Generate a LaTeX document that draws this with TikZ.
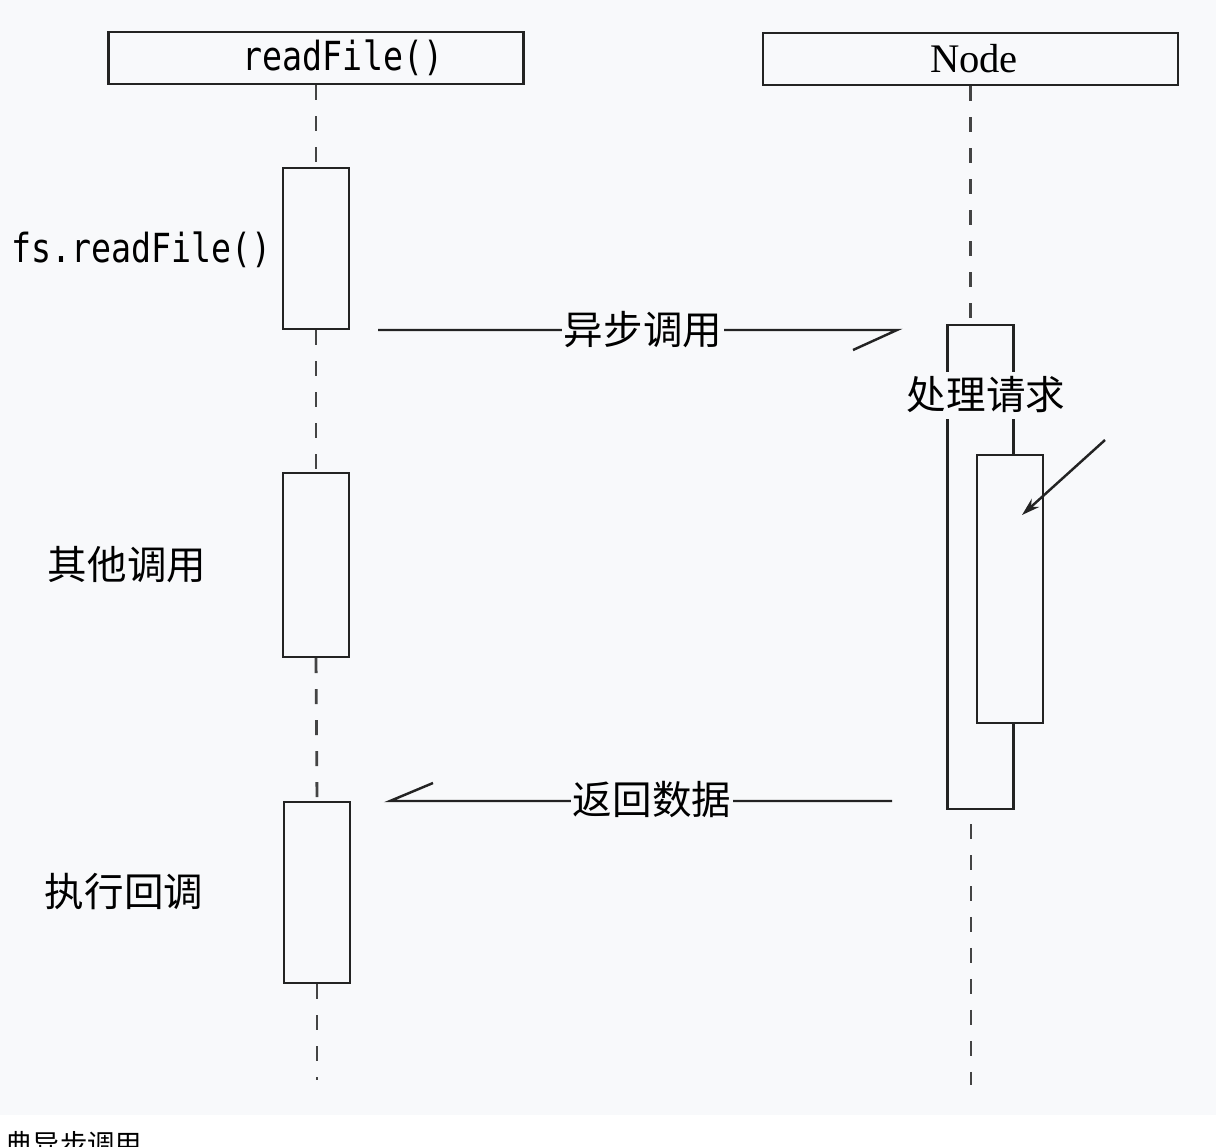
\documentclass[tikz,border=0pt]{standalone}
\usepackage{fontspec}
\newfontfamily\codefont[FakeStretch=0.83]{DejaVu Sans Mono}
\newfontfamily\cjk{Noto Sans CJK SC}
\newfontfamily\serifnode{Liberation Serif}
\usepackage{tikz}
\usetikzlibrary{positioning, arrows.meta}
\definecolor{bgpaper}{RGB}{248,249,251}
\definecolor{ink}{RGB}{35,35,35}

\begin{document}
\begin{tikzpicture}[x=0.02cm, y=-0.02cm,
    head/.style={draw=ink, line width=1.4pt, rectangle, minimum width=8.3cm, minimum height=1.04cm, inner sep=0pt},
    act/.style={draw=ink, line width=1.4pt, rectangle, fill=bgpaper, minimum width=1.32cm, inner sep=0pt},
    lifeline/.style={draw=ink!85, line width=1.6pt, dash pattern=on 0.3cm off 0.32cm},
    msgline/.style={draw=ink, line width=1.4pt},
    msg/.style={fill=bgpaper, inner sep=1pt, font=\cjk\fontsize{22.5}{26}\selectfont},
    note/.style={inner sep=0pt, font=\cjk\fontsize{22.5}{26}\selectfont},
    code/.style={inner sep=0pt, font=\codefont\fontsize{22.8}{26}\selectfont}]

    \useasboundingbox (0,0) rectangle (1216,1146);
    \fill[bgpaper] (0,0) rectangle (1216,1115);
    \fill[white] (0,1115) rectangle (1216,1146);

    % heads
    \node[head] (rf) at (316,58) {};
    \node[code] (rftxt) at (343,58) {readFile()};
    \node[head] (nd) at (970.5,59) {};
    \node[inner sep=0pt, font=\serifnode\fontsize{23.1}{26}\selectfont] (ndtxt) at (974,59) {Node};

    % left activations
    \node[act, minimum height=3.22cm] (call) at (316,248.5) {};
    \node[act, minimum height=3.68cm] (other) at (316,565) {};
    \node[act, minimum height=3.62cm] (cb) at (317,892.5) {};
    \coordinate (rfend) at (317,1080);

    \draw[lifeline] (rf.south -| call) -- (call.north);
    \draw[lifeline] (call.south) -- (other.north);
    \draw[lifeline] (other.south) -- (cb.north);
    \draw[lifeline] (cb.south) -- (rfend);

    % right activations
    \coordinate (ndend) at (971,1085);
    \draw[lifeline] (nd.south) -- (nd.south |- 0,325);
    \draw[lifeline, shorten <=0.3cm] (971,809) -- (ndend);
    \node[act, minimum height=9.68cm] (proc) at (980.5,567) {};
    \node[act, minimum height=5.36cm] (work) at (1010,589) {};
    \node[msg, inner sep=3pt] (proclbl) at (986,395) {处理请求};

    \coordinate (ptrfrom) at (1105,440);
    \coordinate (ptrto) at (1022,515);
    \draw[msgline, -{Stealth[length=0.36cm, width=0.22cm]}] (ptrfrom) -- (ptrto);

    % labels
    \node[code, anchor=east] (fslbl) at (272,250) {fs.readFile()};
    \node[note] (otherlbl) at (127,565) {其他调用};
    \node[note] (cblbl) at (124,892) {执行回调};

    % messages
    \coordinate (asyncfrom) at (378,330);
    \coordinate (asyncto) at (897,330);
    \draw[msgline] (asyncfrom) -- (asyncto) -- ++(-44,20);
    \node[msg] (async) at (643,330) {异步调用};

    \coordinate (retfrom) at (892,801);
    \coordinate (retto) at (390,801);
    \draw[msgline] (retfrom) -- (retto) -- ++(43,-18);
    \node[msg] (ret) at (652,800) {返回数据};

    % caption, cut by the page edge
    \node[inner sep=0pt, anchor=north west, font=\cjk\fontsize{15.6}{18}\selectfont] (caption) at (5,1131) {典异步调用};
\end{tikzpicture}
\end{document}
